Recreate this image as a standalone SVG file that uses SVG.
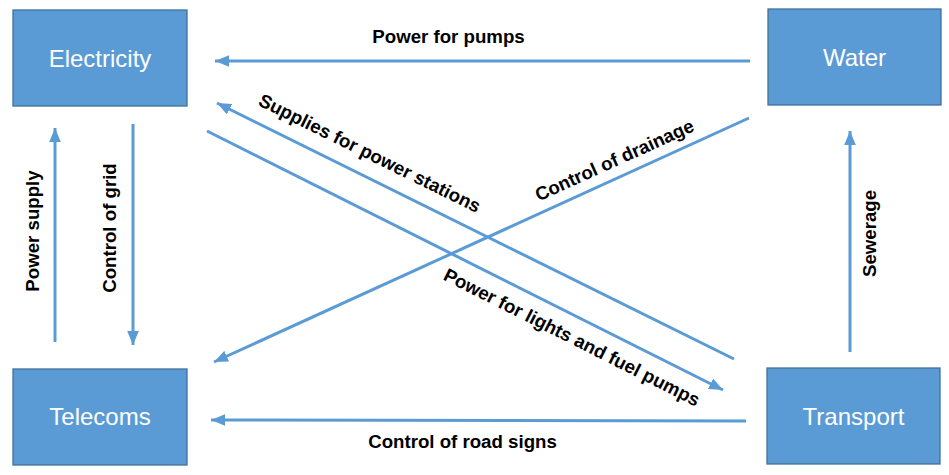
<svg xmlns="http://www.w3.org/2000/svg" width="949" height="475" viewBox="0 0 949 475">
<defs>
<style>
.box{fill:#5B9BD5;stroke:#41719C;stroke-width:1.3}
.bt{font-family:"Liberation Sans",Arial,sans-serif;font-size:24px;fill:#fff;text-anchor:middle}
.ln{stroke:#5B9BD5;stroke-width:3;fill:none}
.lb{font-family:"Liberation Sans",Arial,sans-serif;font-size:18.67px;font-weight:bold;fill:#000;text-anchor:middle}
</style>
<marker id="ah" markerUnits="userSpaceOnUse" markerWidth="14" markerHeight="12" refX="12" refY="5" orient="auto" viewBox="0 0 12 10">
<path d="M0,0 L12,5 L0,10 Z" fill="#5B9BD5"/>
</marker>
</defs>
<rect width="949" height="475" fill="#fff"/>
<g id="electricity"><rect class="box" x="13" y="10" width="174" height="96"/><text class="bt" x="100" y="67">Electricity</text></g>
<g id="water"><rect class="box" x="768" y="9" width="173" height="96"/><text class="bt" x="854.5" y="66">Water</text></g>
<g id="telecoms"><rect class="box" x="13" y="369" width="174" height="96"/><text class="bt" x="100" y="425">Telecoms</text></g>
<g id="transport"><rect class="box" x="767" y="368" width="173" height="96"/><text class="bt" x="853.5" y="425">Transport</text></g>
<g id="connectors">
<line class="ln" x1="750" y1="61" x2="215" y2="61" marker-end="url(#ah)"/>
<line class="ln" x1="734" y1="359" x2="217" y2="103" marker-end="url(#ah)"/>
<line class="ln" x1="207" y1="131" x2="723" y2="390" marker-end="url(#ah)"/>
<line class="ln" x1="749" y1="118" x2="214" y2="362" marker-end="url(#ah)"/>
<line class="ln" x1="746" y1="421" x2="211" y2="420" marker-end="url(#ah)"/>
<line class="ln" x1="850" y1="352" x2="850" y2="131" marker-end="url(#ah)"/>
<line class="ln" x1="55" y1="342" x2="55" y2="128" marker-end="url(#ah)"/>
<line class="ln" x1="133" y1="124" x2="133" y2="345" marker-end="url(#ah)"/>
<text class="lb" x="448.5" y="43">Power for pumps</text>
<text class="lb" x="462.5" y="448">Control of road signs</text>
<text class="lb" transform="translate(38.5,231) rotate(-90)">Power supply</text>
<text class="lb" transform="translate(115.5,228) rotate(-90)">Control of grid</text>
<text class="lb" transform="translate(875.5,233.5) rotate(-90)">Sewerage</text>
<text class="lb" transform="translate(367,159) rotate(26.3)">Supplies for power stations</text>
<text class="lb" transform="translate(569,343) rotate(26.7)">Power for lights and fuel pumps</text>
<text class="lb" transform="translate(617,166) rotate(-24.4)">Control of drainage</text>
</g>
</svg>
